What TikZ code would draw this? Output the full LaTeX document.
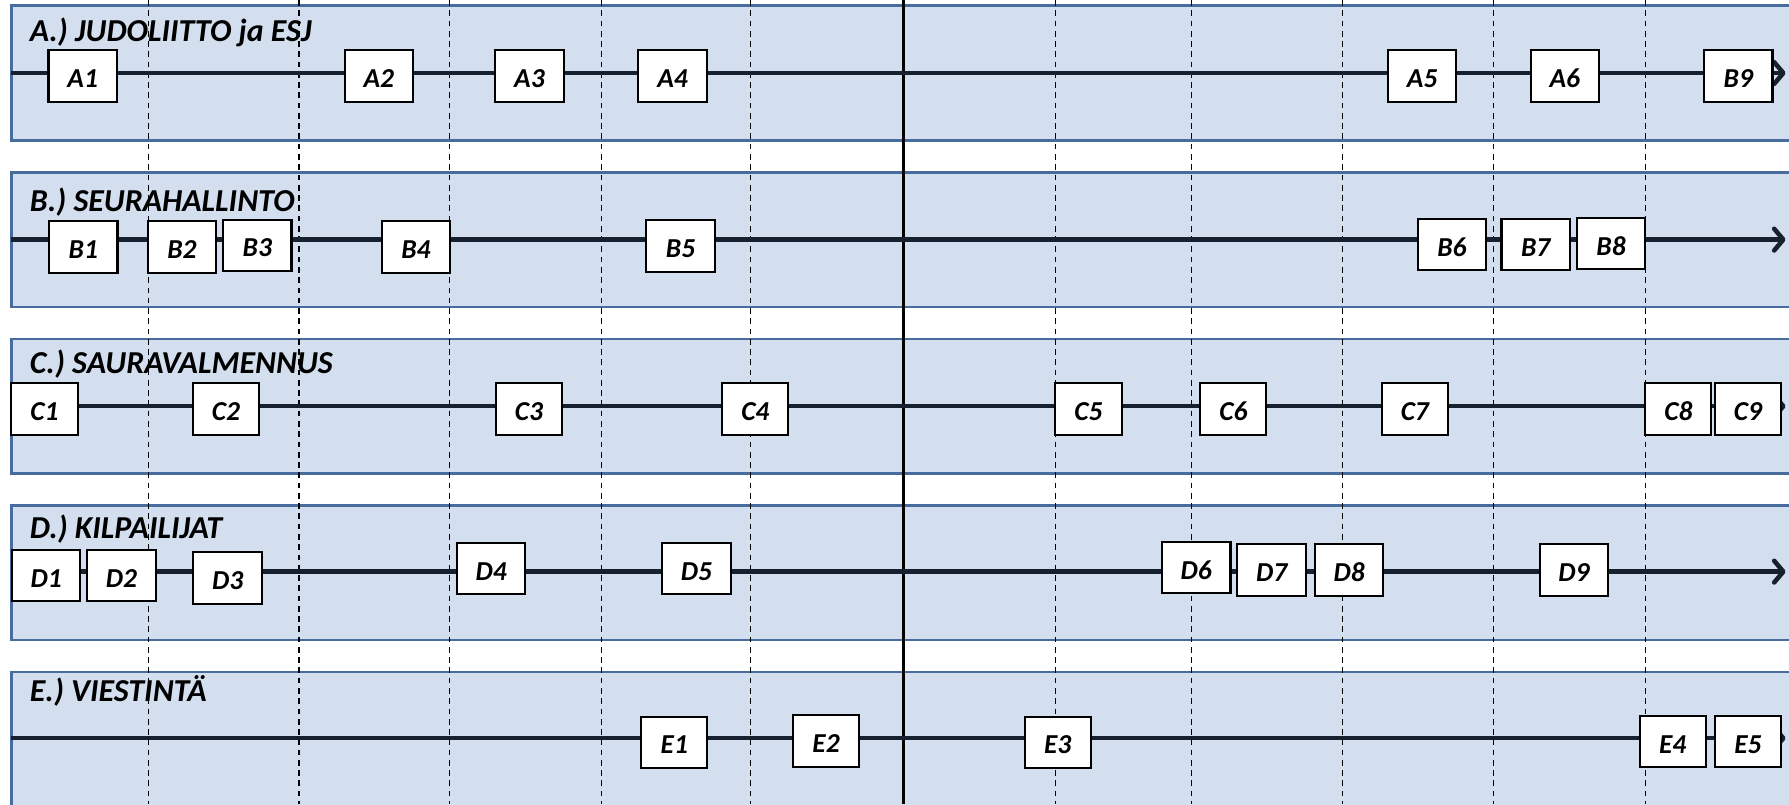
\documentclass[tikz,border=0pt]{standalone}
\usepackage{fontspec}
\setmainfont{Carlito}
\usetikzlibrary{arrows.meta}
\definecolor{bandfill}{RGB}{211,223,238}
\definecolor{banddraw}{RGB}{72,108,158}
\definecolor{tline}{RGB}{23,32,46}
\begin{document}
\begin{tikzpicture}[x=1pt,y=-1pt,
  band/.style={fill=bandfill,draw=banddraw,line width=2.2pt},
  gridline/.style={draw=black,line width=1pt,dash pattern=on 5pt off 4pt},
  axisline/.style={draw=black,line width=2.5pt},
  tl/.style={draw=tline,line width=4pt,-{Straight Barb[round,length=8pt,width=19pt]}},
  ev/.style={draw=black,fill=white,line width=1.8pt,minimum width=60pt,minimum height=45pt,inner sep=0pt,
    text height=20pt,text depth=0pt,
    font=\fontsize{24}{28}\selectfont\bfseries\itshape},
  ttl/.style={anchor=base west,inner sep=0pt,font=\fontsize{28}{32}\selectfont\bfseries\itshape}]
\clip (0,0) rectangle (1568,705);
% bands
\path[band] (10,5) rectangle (1600,123);
\path[band] (10,151) rectangle (1600,269);
\path[band] (10,297) rectangle (1600,415);
\path[band] (10,443) rectangle (1600,561);
\path[band] (10,589) rectangle (1600,800);
% titles
\node[ttl] (tA) at (26,36.5) {A.) JUDOLIITTO ja ESJ};
\node[ttl] (tB) at (26,185.5) {B.) SEURAHALLINTO};
\node[ttl] (tC) at (26,327) {C.) SAURAVALMENNUS};
\node[ttl] (tD) at (26,472) {D.) KILPAILIJAT};
\node[ttl] (tE) at (26,615) {E.) VIESTINTÄ};
% grid
\foreach \x in {130,262,394,527,658,925,1044,1177,1309,1442}
  \draw[gridline] (\x,0) -- (\x,705);
\draw[axisline] (792,0) -- (792,705);
% timelines
\coordinate (aL) at (10,64);  \coordinate (aR) at (1565,64);
\coordinate (bL) at (10,210); \coordinate (bR) at (1565,210);
\coordinate (cL) at (10,356); \coordinate (cR) at (1565,356);
\coordinate (dL) at (10,501); \coordinate (dR) at (1565,501);
\coordinate (eL) at (10,647); \coordinate (eR) at (1565,647);
\draw[tl] (aL) -- (aR);
\draw[tl] (bL) -- (bR);
\draw[tl] (cL) -- (cR);
\draw[tl] (dL) -- (dR);
\draw[tl] (eL) -- (eR);
% row A
\node[ev] (A1) at (72.5,66.5) {A1};
\node[ev] (A2) at (332,66.5) {A2};
\node[ev] (A3) at (464,66.5) {A3};
\node[ev] (A4) at (589.5,66.5) {A4};
\node[ev] (A5) at (1246.5,66.5) {A5};
\node[ev] (A6) at (1371.5,66.5) {A6};
\node[ev] (B9) at (1523.5,66.5) {B9};
% row B
\node[ev] (B1) at (73,216.5) {B1};
\node[ev] (B2) at (159.5,216.5) {B2};
\node[ev] (B3) at (225.5,215) {B3};
\node[ev] (B4) at (364.5,216.5) {B4};
\node[ev] (B5) at (596.5,215.5) {B5};
\node[ev] (B6) at (1272.5,214.5) {B6};
\node[ev] (B7) at (1346,214.5) {B7};
\node[ev] (B8) at (1412,213.5) {B8};
% row C
\node[ev,minimum width=58pt] (C1) at (39,358.5) {C1};
\node[ev,minimum width=58pt] (C2) at (198,358.5) {C2};
\node[ev,minimum width=58pt] (C3) at (463.5,358.5) {C3};
\node[ev,minimum width=58pt] (C4) at (662,358.5) {C4};
\node[ev,minimum width=58pt] (C5) at (954,358.5) {C5};
\node[ev,minimum width=58pt] (C6) at (1081,358.5) {C6};
\node[ev,minimum width=58pt] (C7) at (1240,358.5) {C7};
\node[ev,minimum width=58pt] (C8) at (1471,358.5) {C8};
\node[ev,minimum width=58pt] (C9) at (1532,358.5) {C9};
% row D
\node[ev] (D1) at (40.5,504.5) {D1};
\node[ev] (D2) at (106.5,504.5) {D2};
\node[ev] (D3) at (199.5,506.5) {D3};
\node[ev] (D4) at (430.5,498.5) {D4};
\node[ev] (D5) at (610.5,498.5) {D5};
\node[ev] (D6) at (1048.5,497.5) {D6};
\node[ev] (D7) at (1114.5,499.5) {D7};
\node[ev] (D8) at (1182.5,499.5) {D8};
\node[ev] (D9) at (1379.5,499.5) {D9};
% row E
\node[ev,minimum width=58pt] (E1) at (591,650.5) {E1};
\node[ev,minimum width=58pt] (E2) at (724,649.5) {E2};
\node[ev,minimum width=58pt] (E3) at (927,650.5) {E3};
\node[ev,minimum width=58pt] (E4) at (1466,650) {E4};
\node[ev,minimum width=58pt] (E5) at (1532,650) {E5};
\end{tikzpicture}
\end{document}
